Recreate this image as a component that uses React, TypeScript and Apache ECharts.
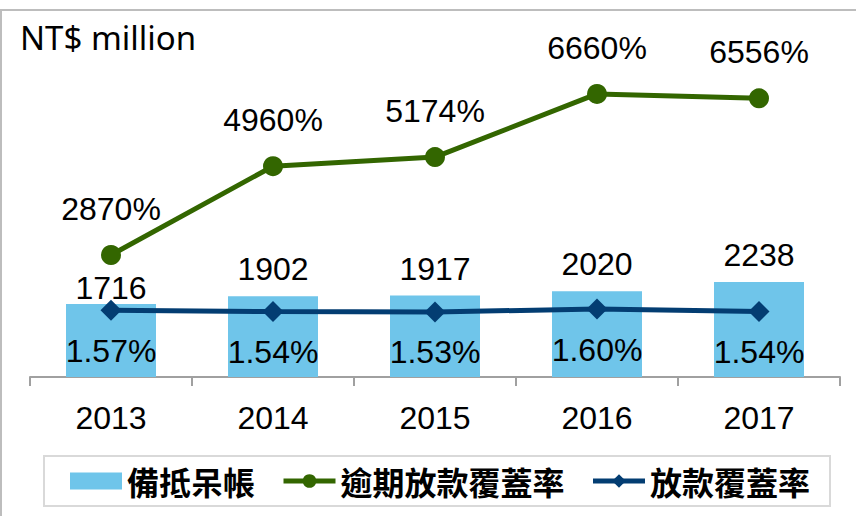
import React, { useEffect, useRef } from "react";
import * as echarts from "echarts";

const years = ["2013", "2014", "2015", "2016", "2017"];
const reserves = [1716, 1902, 1917, 2020, 2238];
const overdueCoverage = [2870, 4960, 5174, 6660, 6556];
const loanCoverage = [1.57, 1.54, 1.53, 1.6, 1.54];
const unitLabel = "NT$ million";
const seriesNames = ["備抵呆帳", "逾期放款覆蓋率", "放款覆蓋率"];

const NUM_FONT = "'Liberation Sans', Arial, sans-serif";
const CJK_FONT = "'Noto Sans CJK TC', 'Noto Sans CJK SC', sans-serif";
const FS = 32;

export default function App() {
  const ref = useRef<HTMLDivElement>(null);
  useEffect(() => {
    if (!ref.current) return;
    const chart = echarts.init(ref.current, null, { renderer: "svg" });
    chart.setOption({
      animation: false,
      backgroundColor: "#ffffff",
      title: {
        text: unitLabel,
        left: 20,
        top: 21,
        padding: 0,
        textStyle: {
          fontSize: 33,
          fontWeight: "normal",
          color: "#000",
          fontFamily: "'Noto Sans', 'Open Sans', sans-serif",
        },
      },
      graphic: [
        {
          type: "rect",
          shape: { x: 1, y: 10, width: 900, height: 600 },
          style: { fill: "none", stroke: "#BDBDBD", lineWidth: 2 },
          silent: true,
          z: -1,
        },
      ],
      grid: { left: 30, right: 16, top: 37, bottom: 139 },
      legend: {
        left: 44,
        top: 456,
        padding: [9, 20, 9, 26],
        itemGap: 26,
        itemWidth: 52,
        itemHeight: 17,
        borderColor: "#D9D9D9",
        borderWidth: 2,
        data: [
          { name: seriesNames[0], icon: "rect" },
          { name: seriesNames[1], lineStyle: { width: 5, color: "#336600" } },
          { name: seriesNames[2], lineStyle: { width: 5, color: "#033D72" } },
        ],
        lineStyle: { width: 5 },
        textStyle: {
          fontSize: FS,
          fontWeight: "bold",
          color: "#000",
          fontFamily: CJK_FONT,
        },
      },
      xAxis: {
        type: "category",
        data: years,
        axisLine: { lineStyle: { color: "#A0A0A0", width: 2 } },
        axisTick: { show: true, alignWithLabel: false, length: 9, lineStyle: { color: "#A0A0A0", width: 2 } },
        axisLabel: { fontSize: FS, color: "#000", margin: 25, fontFamily: NUM_FONT },
        splitLine: { show: false },
      },
      yAxis: [
        { type: "value", min: 0, max: 8000, show: false, splitLine: { show: false } },
        { type: "value", min: 0, max: 8, show: false, splitLine: { show: false } },
      ],
      series: [
        {
          name: seriesNames[0],
          type: "bar",
          yAxisIndex: 0,
          barWidth: 90,
          itemStyle: { color: "#6FC5EA" },
          data: reserves.map((v, i) => (i === 0 ? { value: v, label: { distance: 0 } } : v)),
          label: {
            show: true,
            position: "top",
            distance: 11,
            fontSize: FS,
            color: "#000",
            fontFamily: NUM_FONT,
          },
          z: 1,
        },
        {
          name: seriesNames[2],
          type: "line",
          yAxisIndex: 1,
          data: loanCoverage,
          symbol: "diamond",
          symbolSize: 21,
          itemStyle: { color: "#033D72" },
          lineStyle: { color: "#033D72", width: 5 },
          label: {
            show: true,
            position: "bottom",
            distance: 14,
            fontSize: FS,
            color: "#000",
            fontFamily: NUM_FONT,
            formatter: (p: any) => Number(p.value).toFixed(2) + "%",
          },
          z: 3,
        },
        {
          name: seriesNames[1],
          type: "line",
          yAxisIndex: 0,
          data: overdueCoverage,
          symbol: "circle",
          symbolSize: 20,
          itemStyle: { color: "#336600" },
          lineStyle: { color: "#336600", width: 5 },
          label: {
            show: true,
            position: "top",
            distance: 20,
            fontSize: FS,
            color: "#000",
            fontFamily: NUM_FONT,
            formatter: "{c}%",
          },
          z: 4,
        },
      ],
    });
    return () => chart.dispose();
  }, []);
  return (
    <div
      ref={ref}
      style={{ position: "fixed", left: 0, top: 0, width: 856, height: 516 }}
    />
  );
}
